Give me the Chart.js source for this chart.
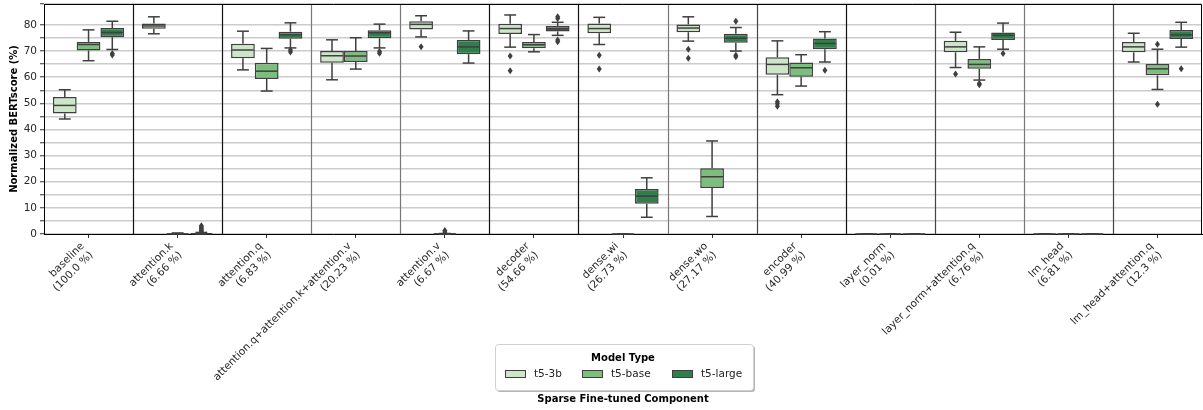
<!DOCTYPE html>
<html>
<head>
<meta charset="utf-8">
<script src="https://cdn.jsdelivr.net/npm/chart.js@4.4.1/dist/chart.umd.min.js"></script>
<style>
  html, body { margin: 0; padding: 0; background: #fff; }
</style>
</head>
<body>
<canvas id="myChart" width="1203" height="410"></canvas>
<script>
// categorias (componente esparso) e rótulos do eixo x
var components = [
    ['baseline', '(100.0 %)'], ['attention.k', '(6.66 %)'], ['attention.q', '(6.83 %)'],
    ['attention.q+attention.k+attention.v', '(20.23 %)'], ['attention.v', '(6.67 %)'],
    ['decoder', '(54.66 %)'], ['dense.wi', '(26.73 %)'], ['dense.wo', '(27.17 %)'],
    ['encoder', '(40.99 %)'], ['layer_norm', '(0.01 %)'], ['layer_norm+attention.q', '(6.76 %)'],
    ['lm_head', '(6.81 %)'], ['lm_head+attention.q', '(12.3 %)']
];
var models = ['t5-3b', 't5-base', 't5-large'];
var yTicks = [0, 10, 20, 30, 40, 50, 60, 70, 80];

// t5-3b
var lo3b  = [44.0, 76.6, 62.8, 59.0, 75.4, 71.5, 72.5, 73.8, 53.3, 0, 63.7, 0, 65.8];
var q13b  = [46.1, 78.5, 67.2, 65.5, 78.2, 76.5, 76.8, 77.2, 60.9, 0, 69.5, 0, 69.5];
var med3b = [49.2, 79.6, 70.4, 68.2, 80.2, 78.6, 78.6, 78.8, 64.9, 0, 71.6, 0, 71.6];
var q33b  = [52.4, 80.5, 72.8, 70.0, 81.4, 80.4, 80.5, 80.2, 67.6, 0.1, 73.9, 0.1, 73.5];
var hi3b  = [55.2, 83.1, 77.6, 74.3, 83.5, 83.8, 82.9, 83.1, 73.9, 0.1, 77.2, 0.1, 76.8];
var out3b = [[], [], [], [], [71.6], [68.1, 62.5], [68.4, 63.1], [70.7, 67.2], [50.6, 49.8, 48.9], [], [61.2], [], []];

// t5-base
var loBase  = [66.3, 0, 54.7, 63.1, 0, 69.7, 0, 6.7, 56.6, 0, 58.9, 0, 55.3];
var q1Base  = [70.2, 0, 59.3, 65.8, 0, 71.1, 0, 17.6, 60.2, 0, 63.2, 0, 60.7];
var medBase = [72.5, 0.05, 62.3, 68.1, 0.05, 72.4, 0, 21.9, 63.6, 0, 64.9, 0, 63.2];
var q3Base  = [73.5, 0.2, 65.5, 70.0, 0.1, 73.5, 0.1, 25.2, 65.6, 0.1, 67.0, 0.1, 65.0];
var hiBase  = [78.1, 0.4, 71.0, 75.1, 0.2, 76.3, 0.1, 35.6, 68.6, 0.1, 71.6, 0.1, 70.7];
var outBase = [[], [], [], [], [0.8, 1.3], [], [], [], [], [], [57.6, 57.1], [], [72.6, 49.6]];

// t5-large
var loLarge  = [70.6, 0, 71.2, 71.2, 65.4, 76.0, 6.4, 70.0, 65.8, 0, 70.7, 0, 71.5];
var q1Large  = [75.3, 0, 74.7, 74.9, 68.8, 77.5, 11.6, 73.2, 70.7, 0, 74.2, 0, 74.6];
var medLarge = [77.1, 0.1, 76.2, 77.0, 71.6, 78.5, 14.5, 74.9, 72.9, 0, 76.0, 0, 76.2];
var q3Large  = [78.8, 0.3, 77.4, 78.0, 74.2, 79.6, 17.2, 76.6, 74.8, 0.1, 77.1, 0.1, 78.1];
var hiLarge  = [81.4, 0.6, 80.8, 80.3, 77.7, 81.0, 21.5, 79.0, 77.4, 0.1, 80.7, 0.1, 81.0];
var outLarge = [[69.1, 68.5], [0.9, 1.3, 1.7, 2.2, 2.7, 3.2], [70.4, 69.6], [69.8, 69.2], [], [83.1, 82.5, 74.2, 73.6],
                [], [81.4, 68.4, 67.8], [62.7], [], [69.1], [], [63.2]];

var stats = [
    { lo: lo3b, q1: q13b, med: med3b, q3: q33b, hi: hi3b, out: out3b },
    { lo: loBase, q1: q1Base, med: medBase, q3: q3Base, hi: hiBase, out: outBase },
    { lo: loLarge, q1: q1Large, med: medLarge, q3: q3Large, hi: hiLarge, out: outLarge }
];
var colors = ['#cde6c7', '#7dbd7e', '#2f7f4b'];
var lineCol = '#3f3f3f';
// cor de cada linha separadora entre categorias
var sepColors = ['#111', '#111', '#777', '#777', '#111', '#111', '#777', '#444', '#111', '#444', '#777', '#444'];
var font = 'DejaVu Sans';

// bigodes, medianas, outliers, separadores e legenda
var boxPlugin = {
    id: 'boxExtras',
    beforeDatasetsDraw: function (chart) {
        var ctx = chart.ctx, xs = chart.scales.x, a = chart.chartArea;
        ctx.save();
        ctx.lineWidth = 1.2;
        for (var i = 1; i < components.length; i++) {
            var bx = Math.round((xs.getPixelForValue(i - 1) + xs.getPixelForValue(i)) / 2) + 0.5;
            ctx.strokeStyle = sepColors[i - 1];
            ctx.beginPath();
            ctx.moveTo(bx, a.top);
            ctx.lineTo(bx, a.bottom);
            ctx.stroke();
        }
        ctx.restore();
    },
    afterDatasetsDraw: function (chart) {
        var ctx = chart.ctx, ys = chart.scales.y;
        ctx.save();
        ctx.strokeStyle = lineCol;
        ctx.fillStyle = lineCol;
        ctx.lineWidth = 1.5;
        function seg(x1, y1, x2, y2) {
            ctx.beginPath(); ctx.moveTo(x1, y1); ctx.lineTo(x2, y2); ctx.stroke();
        }
        stats.forEach(function (s, d) {
            var meta = chart.getDatasetMeta(d);
            meta.data.forEach(function (bar, i) {
                var cx = bar.x, w = bar.width;
                var pHi = ys.getPixelForValue(s.hi[i]), pLo = ys.getPixelForValue(s.lo[i]);
                seg(cx, ys.getPixelForValue(s.q3[i]), cx, pHi);
                seg(cx, ys.getPixelForValue(s.q1[i]), cx, pLo);
                seg(cx - w / 4, pHi, cx + w / 4, pHi);
                seg(cx - w / 4, pLo, cx + w / 4, pLo);
                var pm = ys.getPixelForValue(s.med[i]);
                seg(cx - w / 2 + 1, pm, cx + w / 2 - 1, pm);
                s.out[i].forEach(function (v) {
                    var py = ys.getPixelForValue(v);
                    ctx.beginPath();
                    ctx.moveTo(cx, py - 3.5);
                    ctx.lineTo(cx + 2.5, py);
                    ctx.lineTo(cx, py + 3.5);
                    ctx.lineTo(cx - 2.5, py);
                    ctx.closePath();
                    ctx.fill();
                });
            });
        });
        ctx.restore();
    },
    afterDraw: function (chart) {
        var ctx = chart.ctx, a = chart.chartArea;
        ctx.save();
        // moldura
        ctx.strokeStyle = '#000';
        ctx.lineWidth = 1;
        ctx.beginPath();
        ctx.moveTo(a.left, a.top + 0.5);
        ctx.lineTo(a.right - 0.5, a.top + 0.5);
        ctx.lineTo(a.right - 0.5, a.bottom);
        ctx.stroke();

        // legenda
        var cx = (a.left + a.right) / 2;
        var lx = cx - 128, ly = 344, lw = 258, lh = 46;
        ctx.fillStyle = '#b5b5b5';
        ctx.beginPath(); ctx.roundRect(lx + 2, ly + 2, lw, lh, 3); ctx.fill();
        ctx.fillStyle = '#fff';
        ctx.strokeStyle = '#d0d0d0';
        ctx.beginPath(); ctx.roundRect(lx + 0.5, ly + 0.5, lw, lh, 3); ctx.fill(); ctx.stroke();

        ctx.fillStyle = '#000';
        ctx.font = 'bold 10px "' + font + '"';
        ctx.textAlign = 'center';
        ctx.textBaseline = 'middle';
        ctx.fillText('Model Type', cx, ly + 14);

        var px = [lx + 10, lx + 87, lx + 177];
        ctx.font = '10.5px "' + font + '"';
        ctx.textAlign = 'left';
        models.forEach(function (m, k) {
            ctx.fillStyle = colors[k];
            ctx.fillRect(px[k], ly + 26, 21, 8);
            ctx.strokeStyle = lineCol;
            ctx.lineWidth = 1;
            ctx.strokeRect(px[k] + 0.5, ly + 26.5, 20, 7);
            ctx.fillStyle = '#222';
            ctx.fillText(m, px[k] + 29, ly + 30);
        });
        ctx.restore();
    }
};

var ctx = document.getElementById('myChart').getContext('2d');
var myChart = new Chart(ctx, {
    type: 'bar',
    data: {
        labels: components,
        datasets: stats.map(function (s, d) {
            return {
                label: models[d],
                data: s.q1.map(function (v, i) { return [v, s.q3[i]]; }),
                backgroundColor: colors[d],
                borderColor: lineCol,
                borderWidth: 1.5,
                borderSkipped: false,
                categoryPercentage: 0.8,
                barPercentage: 1.0
            };
        })
    },
    options: {
        responsive: false,
        devicePixelRatio: 1,
        animation: false,
        layout: { padding: { top: 4, right: 1, left: 0, bottom: 0 } },
        plugins: {
            legend: { display: false },
            tooltip: { enabled: false }
        },
        scales: {
            x: {
                afterFit: function (scale) { scale.height = 176; },
                grid: { drawOnChartArea: false, offset: false, tickLength: 4, tickColor: '#333' },
                border: { color: '#000', width: 1 },
                ticks: {
                    autoSkip: false, maxRotation: 45, minRotation: 45, padding: 2, labelOffset: -6,
                    color: '#262626', font: { family: font, size: 10.5 }
                },
                title: {
                    display: true, text: 'Sparse Fine-tuned Component', color: '#000',
                    font: { family: font, size: 10, weight: 'bold' }, padding: { top: 0, bottom: 5 }
                }
            },
            y: {
                min: 0,
                max: 88,
                afterFit: function (scale) {
                    scale.width = 44;
                    scale.paddingTop = 0;
                    scale.paddingBottom = 0;
                },
                grid: { color: '#cccccc', lineWidth: 1.5, tickLength: 4, tickColor: '#333', tickWidth: 1 },
                border: { color: '#000', width: 1 },
                ticks: {
                    stepSize: 5, autoSkip: false, padding: 3, color: '#262626',
                    font: { family: font, size: 10.5 },
                    callback: function (v) { return yTicks.indexOf(v) >= 0 ? v : ''; }
                },
                title: {
                    display: true, text: 'Normalized BERTscore (%)', color: '#000',
                    font: { family: font, size: 10, weight: 'bold' }, padding: { top: 8, bottom: 0 }
                }
            }
        }
    },
    plugins: [boxPlugin]
});
</script>
</body>
</html>
